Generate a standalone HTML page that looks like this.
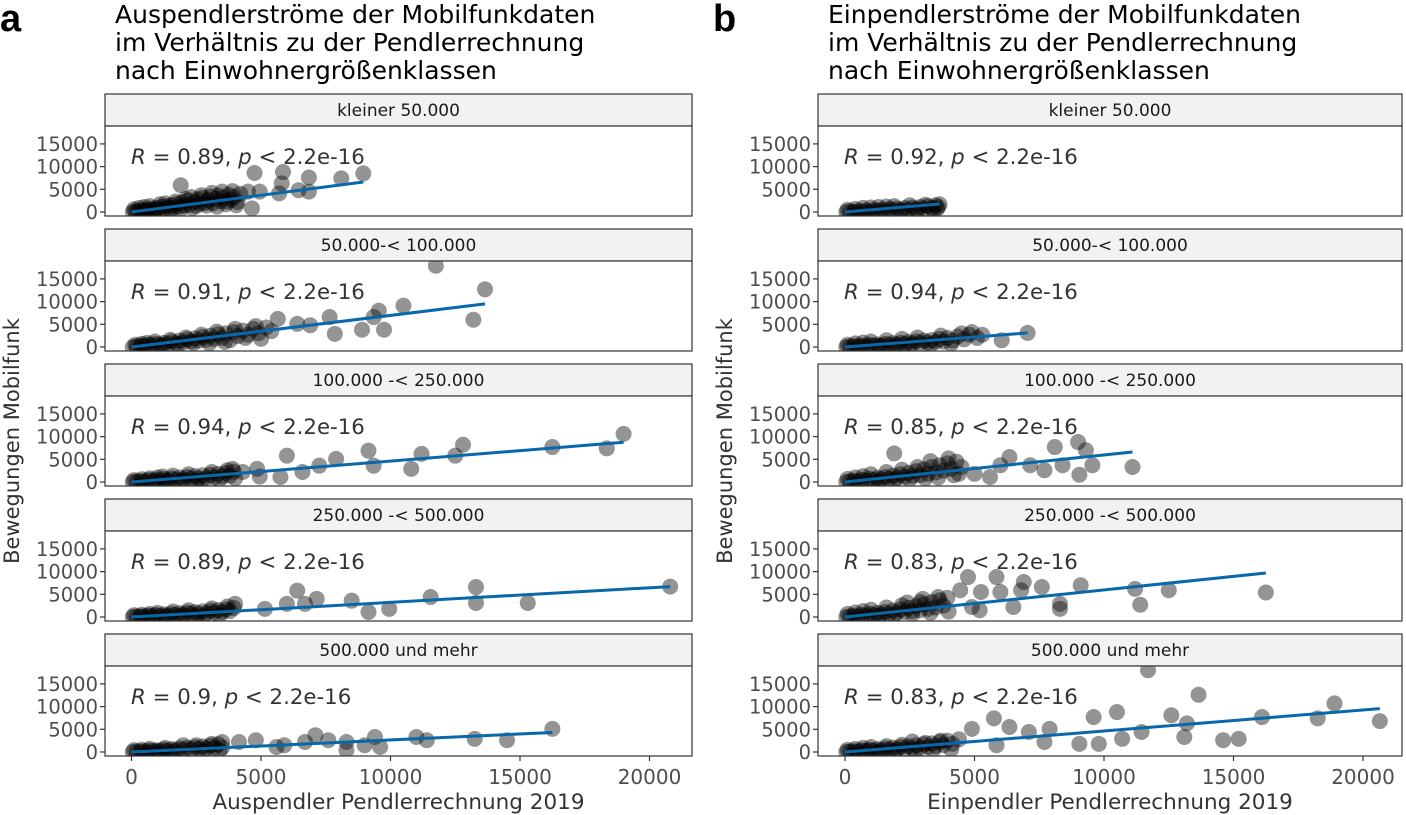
<!DOCTYPE html>
<html><head><meta charset="utf-8">
<style>
html,body{margin:0;padding:0;background:#fff;}
svg{display:block;font-family:"DejaVu Sans","Liberation Sans",sans-serif;}
</style></head>
<body>
<svg id="chart" width="1406" height="815" viewBox="0 0 1406 815" xmlns="http://www.w3.org/2000/svg">
<text x="0" y="31" font-family="Liberation Sans, sans-serif" font-weight="bold" font-size="38" fill="#000">a</text>
<text x="713" y="31" font-family="Liberation Sans, sans-serif" font-weight="bold" font-size="38" fill="#000">b</text>
<g font-size="25" fill="#000">
<text x="115" y="23">Auspendlerströme der Mobilfunkdaten</text>
<text x="115" y="51">im Verhältnis zu der Pendlerrechnung</text>
<text x="115" y="79">nach Einwohnergrößenklassen</text>
</g>
<g font-size="25" fill="#000">
<text x="828" y="23">Einpendlerströme der Mobilfunkdaten</text>
<text x="828" y="51">im Verhältnis zu der Pendlerrechnung</text>
<text x="828" y="79">nach Einwohnergrößenklassen</text>
</g>
<g id="plots"></g>
</svg>
<script>
// ---- data ----
const facetLabels = ["kleiner 50.000","50.000-< 100.000","100.000 -< 250.000","250.000 -< 500.000","500.000 und mehr"];
const rLeft = ["0.89","0.91","0.94","0.89","0.9"];
const rRight = ["0.92","0.94","0.85","0.83","0.83"];
const xTicks = [0,5000,10000,15000,20000];
const yTicks = [0,5000,10000,15000];

const ptsL1 = [[50,0],[150,150],[250,80],[350,300],[450,200],[550,500],[650,300],[750,700],[850,400],[950,900],[1050,600],[1150,1100],[1250,700],[1350,1300],[1450,900],[1550,1500],[1650,1000],[1750,1800],[1850,1200],[1950,2100],[2050,1400],[2150,2500],[2250,1600],[2350,900],[2450,2200],[2550,2800],[2650,1800],[2750,3100],[2850,2000],[2950,2600],[3050,3400],[3150,1900],[3250,2900],[3350,3600],[3450,2400],[3550,3100],[3650,1700],[3750,3800],[3850,2700],[3950,3300],[4100,2200],[4200,4000],[1900,5900],
 [100,600],[300,900],[500,1100],[700,1300],[900,200],[1100,1700],[1300,1900],[1500,400],[1700,2300],[1900,600],[2100,2900],[2300,3300],[2500,1300],[2700,3700],[2900,1400],[3100,4200],[3300,1200],[3500,4500],[3700,2300],[3900,4600],[4050,1500],
 [8950,8500],[8100,7400],[6850,7600],[6850,4500],[6450,4800],[5850,8800],[5800,6300],[5700,4100],[4750,8600],[4950,4500],[4500,4500],[4650,800]];
const ptsL2 = [[50,0],[200,100],[350,300],[500,200],[650,500],[800,400],[950,700],[1100,500],[1250,900],[1400,700],[1550,1200],[1700,800],[1850,1400],[2000,1000],[2150,1700],[2300,1200],[2450,1900],[2600,1400],[2750,2200],[2900,1600],[3050,2500],[3200,1800],[3350,2800],[3500,2000],[3650,3000],[3800,1500],[3950,3300],[4100,2400],[4300,3600],[4500,2700],[4700,4000],[4900,3000],[5200,4300],[5400,3500],[3000,800],
 [150,500],[400,700],[600,900],[900,1200],[1200,300],[1500,1600],[1800,600],[2100,2100],[2400,900],[2700,2700],[3300,3400],[3600,1100],[4000,4000],[4400,2000],[4800,4600],[5000,1800],
 [11750,17900],[13650,12700],[13200,6000],[10500,9100],[9550,8000],[9350,6600],[9750,3800],[8900,3800],[7850,2900],[7650,6600],[6900,4800],[6400,5100],[5650,6200]];
const ptsL3 = [[50,0],[200,100],[350,200],[500,100],[650,400],[800,250],[950,500],[1100,300],[1250,700],[1400,400],[1550,800],[1700,500],[1850,1000],[2000,600],[2150,1100],[2300,700],[2450,1300],[2600,800],[2750,1500],[2900,900],[3050,1600],[3200,1000],[3350,1800],[3500,1200],[3650,2000],[3800,1400],[3950,2300],[1200,1200],[2500,200],
 [100,400],[400,600],[700,800],[1000,1000],[1300,100],[1600,1400],[1900,200],[2200,1700],[2700,300],[3100,2200],[3400,500],[3700,2600],[4000,800],
 [19000,10600],[18350,7400],[16250,7700],[12800,8200],[12500,5800],[11200,6200],[10800,2900],[9350,3600],[9150,6900],[7900,5100],[7250,3600],[6600,2200],[6000,5800],[5750,1100],[4950,1200],[4850,2900],[4300,2200],[3900,2900]];
const ptsL4 = [[50,0],[200,100],[350,150],[500,100],[650,300],[800,200],[950,450],[1100,250],[1250,600],[1400,350],[1550,700],[1700,450],[1850,850],[2000,550],[2150,950],[2300,650],[2450,1100],[2600,750],[2750,1250],[2900,850],[3050,1400],[3200,950],[3350,1550],[3500,1100],[3650,1700],[3800,1300],[3950,2000],[2500,200],
 [100,400],[400,500],[700,700],[1000,900],[1300,100],[1600,1200],[1900,200],[2200,1500],[2800,300],[3100,1900],[3400,400],[3700,2300],
 [20800,6700],[15300,3100],[13300,6600],[13300,3100],[11550,4400],[9950,1800],[9150,1100],[8500,3600],[7150,4000],[6400,5800],[6000,2900],[6700,2900],[5150,1800],[4000,2900]];
const ptsL5 = [[50,0],[200,100],[350,150],[500,80],[650,300],[800,200],[950,400],[1100,250],[1250,550],[1400,300],[1550,650],[1700,400],[1850,800],[2000,500],[2150,900],[2300,600],[2450,1050],[2600,700],[2750,1200],[2900,800],[3050,1400],[3200,900],[3350,1700],[3500,1000],[2000,1500],
 [100,400],[400,500],[700,700],[1000,100],[1300,900],[1600,150],[2500,1500],[2800,200],[3100,1800],[3400,300],
 [16250,5100],[14500,2600],[13250,2900],[11400,2600],[11000,3300],[9400,3300],[9600,1100],[9000,1500],[8300,2200],[8300,400],[7600,2600],[7100,3700],[6700,2200],[5900,1500],[5600,1100],[4800,2600],[4150,2200],[3500,2200]];

const ptsR1 = [[50,0],[200,100],[350,50],[500,200],[650,100],[800,300],[950,150],[1100,400],[1250,250],[1400,500],[1550,300],[1700,650],[1850,400],[2000,750],[2150,450],[2300,850],[2450,550],[2600,950],[2750,650],[2900,1100],[3050,750],[3200,1300],[3350,900],[3500,1500],[3600,1100],[3650,1700],[3550,700],
 [100,500],[400,700],[700,900],[1000,1000],[1300,1100],[1600,1200],[1900,1300],[2200,100],[2500,1500],[2800,200],[3100,1600],[3400,400]];
const ptsR2 = [[50,0],[200,100],[350,200],[500,100],[650,300],[800,200],[950,450],[1100,300],[1250,550],[1400,350],[1550,700],[1700,450],[1850,850],[2000,550],[2150,950],[2300,650],[2450,1100],[2600,750],[2750,1250],[2900,850],[3050,1400],[3200,950],[3350,1550],[3500,1100],[3650,1750],[3800,1200],[3950,2000],[4150,1400],[4350,2300],[4600,1700],[4800,2700],[5100,2000],[5300,2700],[4900,3300],[6050,1500],[7050,3100],
 [100,500],[400,800],[700,1000],[1000,1200],[1300,100],[1600,1500],[1900,200],[2200,1800],[2500,300],[2800,2100],[3300,500],[3700,2500],[4100,700],[4500,3000]];
const ptsR3 = [[50,0],[200,150],[350,300],[500,150],[650,500],[800,300],[950,700],[1100,450],[1250,900],[1400,600],[1550,1100],[1700,700],[1850,1400],[2000,900],[2150,1700],[2300,1100],[2450,2000],[2600,1300],[2750,2400],[2900,1500],[3050,2800],[3200,1800],[3350,3300],[3500,2100],[3650,3700],[3800,2500],[3950,4100],[4100,2900],[4300,4500],[4500,3300],[3300,4600],[4200,1500],[1900,6300],
 [100,700],[400,1000],[700,1300],[1000,1700],[1300,200],[1600,2200],[1900,400],[2200,2700],[2500,600],[2800,3300],[3100,800],[3600,1000],[4000,5200],
 [11100,3300],[9000,8800],[9300,7000],[9550,3700],[9050,1600],[8100,7700],[8400,3700],[7700,2600],[7150,3700],[6350,5500],[6000,3700],[5600,1100],[5000,1800],[4400,1800]];
const ptsR4 = [[50,0],[200,150],[350,300],[500,150],[650,500],[800,300],[950,700],[1100,450],[1250,900],[1400,600],[1550,1100],[1700,700],[1850,1400],[2000,900],[2150,1700],[2300,1100],[2450,2000],[2600,1300],[2750,2400],[2900,1500],[3050,2800],[3200,1800],[3350,3300],[3500,2100],[3650,3700],[3800,2500],[3950,4200],[3000,4000],[2400,3200],
 [100,700],[400,1000],[700,1300],[1000,1600],[1300,200],[1600,2100],[1900,400],[2200,2600],[2600,600],[2900,3300],[3300,900],[3600,4400],[4000,1200],
 [16250,5400],[12500,5900],[11200,6200],[11400,2700],[9100,7000],[8300,1800],[8300,2900],[7600,6600],[6900,7700],[6800,5900],[6500,2200],[5850,8800],[6000,5500],[5250,5500],[5200,1500],[4750,8800],[4450,5900],[4900,2200]];
const ptsR5 = [[50,0],[200,100],[350,200],[500,100],[650,350],[800,200],[950,500],[1100,300],[1250,650],[1400,400],[1550,800],[1700,500],[1850,950],[2000,600],[2150,1100],[2300,700],[2450,1300],[2600,800],[2750,1500],[2900,900],[3050,1700],[3200,1100],[3350,1900],[3500,1300],[3650,2200],[3800,1500],[3950,2500],[4150,1800],[4400,2800],[2600,2300],
 [100,500],[400,700],[700,900],[1000,1100],[1300,100],[1600,1300],[1900,200],[2200,1600],[2700,300],[3100,2000],[3400,400],[3700,2500],[4100,600],
 [11700,18000],[13650,12600],[18900,10700],[20650,6800],[18250,7400],[16100,7700],[12600,8100],[13200,6300],[13100,3300],[11450,4400],[10500,8800],[9600,7700],[10700,2900],[9800,1800],[9050,1800],[14600,2600],[15200,2900],[7900,5100],[7700,2200],[7100,4400],[6350,5500],[5750,7400],[5850,1500],[4900,5100]];

const lineEndL = [[8950,6600],[13650,9500],[19000,8750],[20800,6700],[16250,4300]];
const lineEndR = [[3650,1750],[7050,3100],[11100,6600],[16250,9700],[20650,9550]];

const ptsLeft = [ptsL1,ptsL2,ptsL3,ptsL4,ptsL5];
const ptsRight = [ptsR1,ptsR2,ptsR3,ptsR4,ptsR5];

// ---- layout ----
const NS = "http://www.w3.org/2000/svg";
const plots = document.getElementById('plots');
function el(tag, attrs, parent){
  const e = document.createElementNS(NS, tag);
  for (const k in attrs) e.setAttribute(k, attrs[k]);
  (parent||plots).appendChild(e);
  return e;
}
const PX_PER_X = 25.9/1000, PX_PER_Y = 22.7/5000;

function drawSide(side, left, right, x0, pts, lines, rvals, xTitle){
  const xs = v => x0 + v*PX_PER_X;
  const g = el('g', {});
  
  
  for (let i=0;i<5;i++){
    const stripTop = 94 + 135*i, pTop = stripTop + 32, y0 = pTop + 86;
    const ys = v => y0 - v*PX_PER_Y;
    const strip = el('rect', {x:left, y:stripTop, width:right-left, height:32, fill:'#f2f2f2', stroke:'#333', 'stroke-width':1.2}, g);
    
    
    const st = el('text', {x:(left+right)/2, y:stripTop+22, 'text-anchor':'middle', 'font-size':17, fill:'#1a1a1a'}, g);
    st.textContent = facetLabels[i];
    
    
    const clipId = 'clip-' + side + i;
    const cp = el('clipPath', {id: clipId}, g);
    el('rect', {x:left, y:pTop, width:right-left, height:90}, cp);
    const panel = el('rect', {x:left, y:pTop, width:right-left, height:90, fill:'#fff'}, g);
    
    
    const pg = el('g', {'clip-path':'url(#' + clipId + ')'}, g);
    pts[i].forEach(p => {
      const c = el('circle', {cx: xs(p[0]), cy: ys(p[1]), r: 8, fill: 'rgba(0,0,0,0.42)'}, pg);
      
      
    });
    const ln = el('line', {x1: xs(0), y1: ys(0), x2: xs(lines[i][0]), y2: ys(lines[i][1]), stroke:'#0868ac', 'stroke-width':3}, pg);
    
    
    el('rect', {x:left, y:pTop, width:right-left, height:90, fill:'none', stroke:'#333', 'stroke-width':1.2}, g);
    const rt = el('text', {x: left + 26, y: pTop + 38, 'font-size':21.3, fill:'#333'}, g);
    rt.innerHTML = '<tspan font-style="italic">R</tspan> = ' + rvals[i] + ', <tspan font-style="italic">p</tspan> &lt; 2.2e-16';
    
    
    yTicks.forEach(t => {
      el('line', {x1:left-5, x2:left, y1:ys(t), y2:ys(t), stroke:'#333', 'stroke-width':1.2}, g);
      const tl = el('text', {x:left-7, y:ys(t)+7, 'text-anchor':'end', 'font-size':19.5, fill:'#4d4d4d'}, g);
      tl.textContent = t;
      
      
    });
  }
  const bot = 94 + 135*4 + 32 + 90;
  xTicks.forEach(t => {
    el('line', {x1:xs(t), x2:xs(t), y1:bot, y2:bot+5, stroke:'#333', 'stroke-width':1.2}, g);
    const tl = el('text', {x:xs(t), y:bot+28, 'text-anchor':'middle', 'font-size':20, fill:'#4d4d4d'}, g);
    tl.textContent = t;
    
    
  });
  const xt = el('text', {x:(left+right)/2, y:809, 'text-anchor':'middle', 'font-size':21.5, fill:'#333'}, g);
  xt.textContent = xTitle;
  
  
  const ytx = left - 86;
  const yt = el('text', {x:ytx, y:441, 'text-anchor':'middle', 'font-size':21, fill:'#333', transform:'rotate(-90 ' + ytx + ' 441)'}, g);
  yt.textContent = 'Bewegungen Mobilfunk';
  
  
}
drawSide('left', 105, 692, 131.5, ptsLeft, lineEndL, rLeft, 'Auspendler Pendlerrechnung 2019');
drawSide('right', 818, 1402, 845, ptsRight, lineEndR, rRight, 'Einpendler Pendlerrechnung 2019');
</script>
</body></html>
